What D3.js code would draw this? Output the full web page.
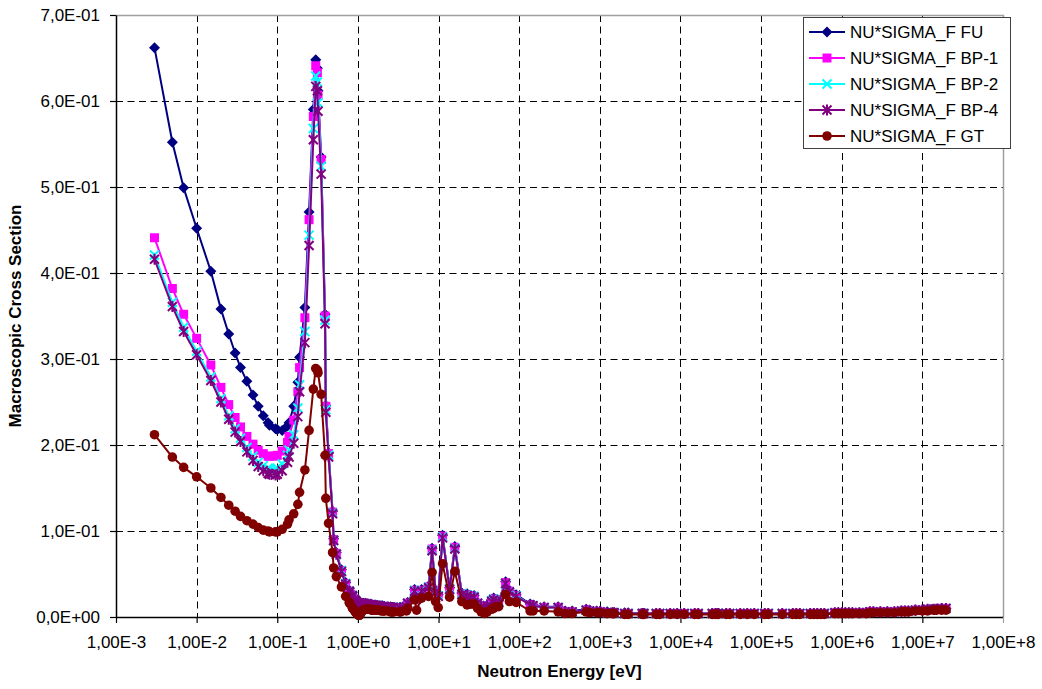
<!DOCTYPE html>
<html>
<head>
<meta charset="utf-8">
<style>
body { margin: 0; background: #fff; }
svg text { font-family: "Liberation Sans", Arial, sans-serif; fill: #000; }
</style>
</head>
<body>
<svg width="1042" height="689"></svg>
<script src="https://cdn.jsdelivr.net/npm/d3@7/dist/d3.min.js"></script>
<script>
// energy grid [eV], ascending
var energy = [
  0.003, 0.005, 0.0069, 0.01, 0.015, 0.02, 0.025, 0.03, 0.035, 0.042,
  0.05, 0.058, 0.067, 0.077, 0.08, 0.095, 0.1, 0.115, 0.134, 0.14,
  0.16, 0.18, 0.189, 0.22, 0.248, 0.28, 0.3, 0.3145, 0.32, 0.35,
  0.391, 0.4, 0.433, 0.485, 0.5, 0.54, 0.625, 0.705, 0.78, 0.79,
  0.85, 0.86, 0.91, 0.93, 0.95, 0.972, 0.986, 0.996, 1.02, 1.035,
  1.045, 1.071, 1.097, 1.11, 1.125, 1.15, 1.17, 1.235, 1.3, 1.3375,
  1.37, 1.445, 1.475, 1.5, 1.59, 1.67, 1.755, 1.84, 1.93, 2.02,
  2.1, 2.13, 2.36, 2.55, 2.6, 2.72, 2.768, 3.3, 3.381, 4.0,
  4.129, 5.043, 5.346, 6.16, 7.524, 8.315, 9.19, 9.906, 11.22, 13.71,
  15.93, 19.45, 22.6, 24.98, 27.61, 30.51, 33.72, 37.27, 40.17, 45.52,
  48.25, 51.58, 55.6, 67.9, 75.67, 91.66, 136.7, 148.6, 204.0, 304.3,
  371.7, 454.0, 677.3, 748.5, 914.2, 1010, 1234, 1434, 1507, 2035,
  2249, 3355, 3527, 5005, 5531, 7466, 9119, 11138, 15034, 16616,
  24788, 27394, 29283, 36979, 40868, 55166, 67380, 82298, 111090, 122773,
  183156, 247235, 273237, 301974, 407622, 450492, 497871, 550232, 608101, 820850,
  907180, 1002590, 1108030, 1224560, 1353350, 1652990, 2018970, 2231300, 2465970, 3011940,
  3678790, 4493290, 5488120, 6065310, 6703200, 8187310, 10000000, 11618300, 13840300, 14918200,
  17332500, 19640300
];

var fu = [
  0.662, 0.552, 0.499, 0.452, 0.402, 0.358, 0.329, 0.307, 0.290, 0.274,
  0.258, 0.245, 0.234, 0.226, 0.223, 0.219, 0.218, 0.217, 0.222, 0.226,
  0.245, 0.273, 0.302, 0.360, 0.471, 0.590, 0.648, 0.638, 0.612, 0.535,
  0.352, 0.246, 0.191, 0.123, 0.091, 0.075, 0.055, 0.040, 0.031, 0.030,
  0.026, 0.025, 0.021, 0.020, 0.019, 0.018, 0.017, 0.016, 0.015, 0.014,
  0.014, 0.014, 0.015, 0.015, 0.015, 0.016, 0.016, 0.016, 0.015, 0.015,
  0.015, 0.015, 0.014, 0.014, 0.014, 0.014, 0.013, 0.013, 0.013, 0.013,
  0.012, 0.012, 0.012, 0.012, 0.011, 0.011, 0.011, 0.011, 0.011, 0.013,
  0.017, 0.032, 0.022, 0.032, 0.036, 0.080, 0.031, 0.026, 0.095, 0.034,
  0.082, 0.028, 0.027, 0.025, 0.025, 0.017, 0.013, 0.012, 0.014, 0.020,
  0.022, 0.020, 0.019, 0.041, 0.031, 0.026, 0.015, 0.014, 0.012, 0.012,
  0.007, 0.007, 0.009, 0.008, 0.007, 0.007, 0.006, 0.005, 0.005, 0.005,
  0.005, 0.004, 0.004, 0.004, 0.004, 0.004, 0.004, 0.004, 0.004, 0.004,
  0.004, 0.004, 0.004, 0.004, 0.004, 0.004, 0.004, 0.004, 0.004, 0.004,
  0.004, 0.004, 0.004, 0.004, 0.004, 0.004, 0.004, 0.004, 0.004, 0.005,
  0.005, 0.005, 0.005, 0.005, 0.005, 0.005, 0.005, 0.006, 0.006, 0.006,
  0.006, 0.006, 0.007, 0.007, 0.007, 0.008, 0.008, 0.009, 0.009, 0.009,
  0.010, 0.010
];

var bp1 = [
  0.441, 0.382, 0.352, 0.324, 0.293, 0.267, 0.247, 0.232, 0.221, 0.210,
  0.201, 0.194, 0.190, 0.187, 0.187, 0.187, 0.188, 0.193, 0.203, 0.210,
  0.229, 0.262, 0.290, 0.348, 0.462, 0.582, 0.641, 0.633, 0.607, 0.532,
  0.350, 0.245, 0.190, 0.122, 0.090, 0.074, 0.054, 0.039, 0.030, 0.029,
  0.025, 0.024, 0.020, 0.019, 0.018, 0.017, 0.016, 0.016, 0.015, 0.014,
  0.013, 0.013, 0.014, 0.014, 0.015, 0.015, 0.015, 0.015, 0.015, 0.015,
  0.014, 0.014, 0.014, 0.014, 0.013, 0.013, 0.013, 0.013, 0.012, 0.012,
  0.012, 0.012, 0.011, 0.011, 0.011, 0.011, 0.011, 0.010, 0.010, 0.012,
  0.016, 0.031, 0.021, 0.031, 0.035, 0.079, 0.030, 0.025, 0.094, 0.033,
  0.081, 0.027, 0.026, 0.024, 0.024, 0.016, 0.012, 0.011, 0.013, 0.019,
  0.021, 0.019, 0.018, 0.040, 0.030, 0.025, 0.014, 0.013, 0.011, 0.011,
  0.006, 0.006, 0.008, 0.007, 0.006, 0.006, 0.005, 0.005, 0.005, 0.004,
  0.004, 0.004, 0.004, 0.004, 0.004, 0.004, 0.004, 0.004, 0.004, 0.004,
  0.004, 0.004, 0.004, 0.004, 0.004, 0.004, 0.004, 0.004, 0.004, 0.004,
  0.004, 0.004, 0.004, 0.004, 0.004, 0.004, 0.004, 0.004, 0.004, 0.005,
  0.005, 0.005, 0.005, 0.005, 0.005, 0.005, 0.005, 0.006, 0.006, 0.006,
  0.006, 0.006, 0.007, 0.007, 0.007, 0.008, 0.008, 0.009, 0.009, 0.009,
  0.010, 0.010
];

var bp2 = [
  0.421, 0.366, 0.337, 0.309, 0.279, 0.254, 0.234, 0.219, 0.208, 0.197,
  0.187, 0.180, 0.176, 0.173, 0.172, 0.172, 0.173, 0.178, 0.188, 0.194,
  0.212, 0.243, 0.270, 0.332, 0.444, 0.568, 0.629, 0.622, 0.598, 0.524,
  0.345, 0.241, 0.188, 0.121, 0.089, 0.073, 0.054, 0.039, 0.030, 0.029,
  0.025, 0.024, 0.020, 0.019, 0.018, 0.017, 0.016, 0.015, 0.015, 0.014,
  0.013, 0.013, 0.014, 0.014, 0.015, 0.015, 0.015, 0.015, 0.015, 0.014,
  0.014, 0.014, 0.014, 0.014, 0.013, 0.013, 0.013, 0.013, 0.012, 0.012,
  0.012, 0.012, 0.011, 0.011, 0.011, 0.011, 0.011, 0.010, 0.010, 0.012,
  0.016, 0.031, 0.021, 0.031, 0.035, 0.078, 0.030, 0.025, 0.093, 0.033,
  0.080, 0.027, 0.026, 0.024, 0.024, 0.016, 0.012, 0.011, 0.013, 0.019,
  0.021, 0.019, 0.018, 0.039, 0.029, 0.025, 0.014, 0.013, 0.011, 0.011,
  0.006, 0.006, 0.008, 0.007, 0.006, 0.006, 0.005, 0.005, 0.005, 0.004,
  0.004, 0.004, 0.004, 0.004, 0.004, 0.004, 0.004, 0.004, 0.004, 0.004,
  0.004, 0.004, 0.004, 0.004, 0.004, 0.004, 0.004, 0.004, 0.004, 0.004,
  0.004, 0.004, 0.004, 0.004, 0.004, 0.004, 0.004, 0.004, 0.004, 0.005,
  0.005, 0.005, 0.005, 0.005, 0.005, 0.005, 0.005, 0.006, 0.006, 0.006,
  0.006, 0.006, 0.007, 0.007, 0.007, 0.008, 0.008, 0.009, 0.009, 0.009,
  0.010, 0.010
];

var bp4 = [
  0.416, 0.361, 0.332, 0.305, 0.275, 0.250, 0.230, 0.215, 0.204, 0.192,
  0.182, 0.175, 0.170, 0.167, 0.166, 0.165, 0.166, 0.170, 0.180, 0.186,
  0.202, 0.233, 0.262, 0.319, 0.432, 0.555, 0.617, 0.612, 0.588, 0.515,
  0.341, 0.238, 0.186, 0.120, 0.089, 0.073, 0.053, 0.038, 0.030, 0.029,
  0.025, 0.024, 0.020, 0.019, 0.018, 0.017, 0.016, 0.015, 0.014, 0.013,
  0.013, 0.013, 0.014, 0.014, 0.014, 0.015, 0.015, 0.015, 0.015, 0.014,
  0.014, 0.014, 0.014, 0.013, 0.013, 0.013, 0.013, 0.012, 0.012, 0.012,
  0.012, 0.012, 0.011, 0.011, 0.011, 0.011, 0.011, 0.010, 0.010, 0.012,
  0.016, 0.030, 0.021, 0.030, 0.034, 0.077, 0.029, 0.024, 0.092, 0.032,
  0.079, 0.026, 0.025, 0.023, 0.023, 0.016, 0.012, 0.011, 0.013, 0.018,
  0.020, 0.018, 0.017, 0.039, 0.029, 0.024, 0.014, 0.013, 0.011, 0.011,
  0.006, 0.006, 0.008, 0.007, 0.006, 0.006, 0.005, 0.005, 0.005, 0.004,
  0.004, 0.004, 0.004, 0.004, 0.004, 0.004, 0.004, 0.004, 0.004, 0.004,
  0.004, 0.004, 0.004, 0.004, 0.004, 0.004, 0.004, 0.004, 0.004, 0.004,
  0.004, 0.004, 0.004, 0.004, 0.004, 0.004, 0.004, 0.004, 0.004, 0.005,
  0.005, 0.005, 0.005, 0.005, 0.005, 0.005, 0.005, 0.006, 0.006, 0.006,
  0.006, 0.006, 0.007, 0.007, 0.007, 0.008, 0.008, 0.009, 0.009, 0.009,
  0.010, 0.010
];

var gt = [
  0.212, 0.186, 0.174, 0.163, 0.150, 0.139, 0.130, 0.123, 0.117, 0.112,
  0.108, 0.104, 0.101, 0.100, 0.099, 0.099, 0.099, 0.102, 0.108, 0.113,
  0.120, 0.131, 0.145, 0.171, 0.217, 0.265, 0.289, 0.287, 0.284, 0.259,
  0.188, 0.138, 0.109, 0.075, 0.057, 0.047, 0.035, 0.024, 0.017, 0.016,
  0.011, 0.010, 0.007, 0.006, 0.005, 0.004, 0.003, 0.003, 0.002, 0.002,
  0.002, 0.003, 0.005, 0.006, 0.007, 0.008, 0.008, 0.009, 0.009, 0.009,
  0.009, 0.009, 0.008, 0.008, 0.008, 0.008, 0.008, 0.008, 0.007, 0.007,
  0.007, 0.007, 0.007, 0.006, 0.006, 0.006, 0.006, 0.006, 0.006, 0.007,
  0.010, 0.020, 0.008, 0.022, 0.024, 0.052, 0.018, 0.011, 0.062, 0.023,
  0.053, 0.018, 0.014, 0.015, 0.015, 0.010, 0.006, 0.004, 0.006, 0.009,
  0.010, 0.012, 0.012, 0.026, 0.018, 0.017, 0.007, 0.007, 0.007, 0.006,
  0.004, 0.004, 0.006, 0.005, 0.005, 0.005, 0.004, 0.004, 0.004, 0.003,
  0.003, 0.003, 0.003, 0.003, 0.003, 0.003, 0.003, 0.003, 0.003, 0.003,
  0.003, 0.003, 0.003, 0.003, 0.003, 0.003, 0.003, 0.003, 0.003, 0.003,
  0.003, 0.003, 0.003, 0.003, 0.003, 0.003, 0.003, 0.003, 0.003, 0.004,
  0.004, 0.004, 0.004, 0.004, 0.004, 0.004, 0.004, 0.005, 0.005, 0.005,
  0.005, 0.005, 0.006, 0.006, 0.006, 0.007, 0.007, 0.007, 0.008, 0.008,
  0.008, 0.008
];

var seriesNames = ["NU*SIGMA_F FU", "NU*SIGMA_F BP-1", "NU*SIGMA_F BP-2", "NU*SIGMA_F BP-4", "NU*SIGMA_F GT"];
var seriesColors = ["#000080", "#ff00ff", "#00ffff", "#800080", "#800000"];
var seriesShapes = ["diamond", "square", "x", "star", "circle"];
var seriesValues = [fu, bp1, bp2, bp4, gt];

var xTicks = [1e-3, 1e-2, 1e-1, 1e0, 1e1, 1e2, 1e3, 1e4, 1e5, 1e6, 1e7, 1e8];
var xTickLabels = ["1,00E-3", "1,00E-2", "1,00E-1", "1,00E+0", "1,00E+1", "1,00E+2",
                   "1,00E+3", "1,00E+4", "1,00E+5", "1,00E+6", "1,00E+7", "1,00E+8"];
var yTicks = [0, 0.1, 0.2, 0.3, 0.4, 0.5, 0.6, 0.7];
var yTickLabels = ["0,0E+00", "1,0E-01", "2,0E-01", "3,0E-01", "4,0E-01", "5,0E-01", "6,0E-01", "7,0E-01"];

var svg = d3.select("svg");
var pLeft = 116, pRight = 1003, pTop = 15, pBottom = 617;

var x = d3.scaleLog().domain([1e-3, 1e8]).range([pLeft, pRight]);
var y = d3.scaleLinear().domain([0, 0.7]).range([pBottom, pTop]);

// grid
var grid = svg.append("g").attr("stroke", "#000").attr("stroke-width", 1).attr("stroke-dasharray", "7,4.5");
grid.selectAll("line.gx")
  .data(xTicks.slice(1, -1))
  .enter().append("line")
  .attr("class", "gx")
  .attr("x1", function(d) { return Math.round(x(d)) + 0.5; })
  .attr("x2", function(d) { return Math.round(x(d)) + 0.5; })
  .attr("y1", pTop).attr("y2", pBottom);
grid.selectAll("line.gy")
  .data(yTicks.slice(1, -1))
  .enter().append("line")
  .attr("class", "gy")
  .attr("y1", function(d) { return Math.round(y(d)) + 0.5; })
  .attr("y2", function(d) { return Math.round(y(d)) + 0.5; })
  .attr("x1", pLeft).attr("x2", pRight);

// plot frame top / right
svg.append("path")
  .attr("d", "M" + pLeft + "," + (pTop + 0.5) + "H" + (pRight + 0.5) + "V" + pBottom)
  .attr("fill", "none").attr("stroke", "#a0a0a0").attr("stroke-width", 1.5);

// axes
var xAxis = d3.axisBottom(x).tickValues(xTicks).tickSize(6).tickSizeOuter(0).tickPadding(13)
  .tickFormat(function(d, i) { return xTickLabels[i]; });
var yAxis = d3.axisLeft(y).tickValues(yTicks).tickSize(6).tickSizeOuter(0).tickPadding(10)
  .tickFormat(function(d, i) { return yTickLabels[i]; });

var gx = svg.append("g").attr("transform", "translate(0," + pBottom + ")").call(xAxis);
var gy = svg.append("g").attr("transform", "translate(" + pLeft + ",0)").call(yAxis);
[gx, gy].forEach(function(g) {
  g.selectAll("path.domain").attr("stroke", "#000").attr("stroke-width", 1.5);
  g.selectAll(".tick line").attr("stroke", "#000").attr("stroke-width", 1.2);
  g.selectAll(".tick text").attr("font-size", 17).attr("font-family", "Liberation Sans, Arial, sans-serif").attr("fill", "#000");
});
gx.selectAll(".tick").filter(function(d) { return d === 1e8; }).select("line").attr("stroke", "#a0a0a0");

// axis titles
svg.append("text")
  .attr("x", (pLeft + pRight) / 2).attr("y", 677)
  .attr("text-anchor", "middle").attr("font-size", 17).attr("font-weight", "bold")
  .text("Neutron Energy [eV]");
svg.append("text")
  .attr("transform", "translate(21," + ((pTop + pBottom) / 2) + ") rotate(-90)")
  .attr("text-anchor", "middle").attr("font-size", 17).attr("font-weight", "bold")
  .text("Macroscopic Cross Section");

// markers
function drawMarker(sel, shape, color) {
  if (shape === "circle") {
    sel.append("circle").attr("r", 4.8).attr("fill", color);
  } else if (shape === "diamond") {
    sel.append("path").attr("d", "M0,-5.5L5.5,0L0,5.5L-5.5,0Z").attr("fill", color);
  } else if (shape === "square") {
    sel.append("path").attr("d", "M-4.5,-4.5h9v9h-9Z").attr("fill", color);
  } else if (shape === "x") {
    sel.append("path").attr("d", "M-4.5,-4.5L4.5,4.5M-4.5,4.5L4.5,-4.5")
      .attr("stroke", color).attr("stroke-width", 2).attr("fill", "none");
  } else {
    sel.append("path").attr("d", "M-4.5,-4.5L4.5,4.5M-4.5,4.5L4.5,-4.5M0,-5.5V5.5")
      .attr("stroke", color).attr("stroke-width", 2).attr("fill", "none");
  }
}

var line = d3.line()
  .x(function(d, i) { return x(energy[i]); })
  .y(function(d) { return y(d); });

seriesValues.forEach(function(vals, s) {
  var g = svg.append("g");
  g.append("path")
    .datum(vals)
    .attr("d", line)
    .attr("fill", "none")
    .attr("stroke", seriesColors[s])
    .attr("stroke-width", 2)
    .attr("stroke-linejoin", "round");
  var pts = g.selectAll("g.pt")
    .data(vals)
    .enter().append("g")
    .attr("class", "pt")
    .attr("transform", function(d, i) { return "translate(" + x(energy[i]) + "," + y(d) + ")"; });
  drawMarker(pts, seriesShapes[s], seriesColors[s]);
});

// legend
var lg = svg.append("g");
lg.append("rect")
  .attr("x", 803.5).attr("y", 17.5).attr("width", 207).attr("height", 131)
  .attr("fill", "#fff").attr("stroke", "#404040").attr("stroke-width", 1);
var items = lg.selectAll("g.item")
  .data(seriesNames)
  .enter().append("g")
  .attr("class", "item")
  .attr("transform", function(d, i) { return "translate(0," + (32 + i * 26) + ")"; });
items.append("line")
  .attr("x1", 809).attr("x2", 845).attr("y1", 0).attr("y2", 0)
  .attr("stroke", function(d, i) { return seriesColors[i]; })
  .attr("stroke-width", 2);
items.each(function(d, i) {
  var m = d3.select(this).append("g").attr("transform", "translate(827,0)");
  drawMarker(m, seriesShapes[i], seriesColors[i]);
});
items.append("text")
  .attr("x", 850).attr("y", 6)
  .attr("font-size", 17)
  .text(function(d) { return d; });
</script>
</body>
</html>
